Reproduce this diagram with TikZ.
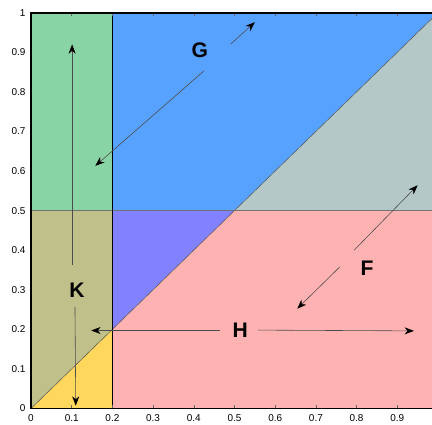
\documentclass[tikz,border=0pt]{standalone}
\usepackage{fontspec}
\setmainfont{Liberation Sans}
\usepackage{tikz}
\usetikzlibrary{positioning,arrows.meta}
\definecolor{gzone}{RGB}{136,212,164}
\definecolor{bzone}{RGB}{88,162,255}
\definecolor{szone}{RGB}{180,200,200}
\definecolor{pzone}{RGB}{255,178,178}
\definecolor{ozone}{RGB}{192,192,138}
\definecolor{vzone}{RGB}{130,130,255}
\definecolor{yzone}{RGB}{255,215,92}

\begin{document}
\begin{tikzpicture}[x=12.21cm,y=11.874cm,
		arr/.style={draw=black!70,line width=0.5pt,-{Stealth[length=8pt,width=6pt,inset=2.5pt,color=black]}},
		lbl/.style={font=\fontsize{18}{18}\selectfont\bfseries,inner sep=1pt},
		tck/.style={font=\fontsize{8.5}{9}\selectfont,inner sep=0pt}]
	\useasboundingbox (-0.0762,-0.0417) rectangle (0.9853,1.0321);
	\begin{scope}
		\clip (-0.0762,-0.0417) rectangle (0.9853,1.0321);
		\fill[gzone] (0,0.5) rectangle (0.2,1);
		\fill[ozone] (0,0) -- (0.2,0.2) -- (0.2,0.5) -- (0,0.5) -- cycle;
		\fill[yzone] (0,0) -- (0.2,0) -- (0.2,0.2) -- cycle;
		\fill[bzone] (0.2,0.5) -- (0.5,0.5) -- (1,1) -- (0.2,1) -- cycle;
		\fill[szone] (0.5,0.5) -- (1,0.5) -- (1,1) -- cycle;
		\fill[vzone] (0.2,0.2) -- (0.2,0.5) -- (0.5,0.5) -- cycle;
		\fill[pzone] (0.2,0) -- (1,0) -- (1,0.5) -- (0.5,0.5) -- (0.2,0.2) -- cycle;
		\draw[black!70,line width=0.4pt] (0,0) -- (1,1);
		\draw[black!55,line width=0.7pt] (0,0.5) -- (1,0.5);
		\draw[black,line width=0.6pt] (0.2,0) -- (0.2,1);
		\foreach \t in {0.1,0.2,0.3,0.4,0.5,0.6,0.7,0.8,0.9}
		{
			\draw[black!60,line width=0.4pt] (\t,0) -- (\t,0.009);
			\draw[black!60,line width=0.4pt] (\t,1) -- (\t,0.991);
		}
		\draw[black,line width=1.6pt] (1.1,1) -- (0,1) -- (0,0) -- (1.1,0);
	\end{scope}
	\foreach \t [count=\i] in {0,0.1,0.2,0.3,0.4,0.5,0.6,0.7,0.8,0.9}
		\node[tck,anchor=north] (xt\i) at (\t,-0.016) {\t};
	\foreach \t [count=\i] in {0,0.1,0.2,0.3,0.4,0.5,0.6,0.7,0.8,0.9,1}
		\node[tck,anchor=east] (yt\i) at (-0.013,\t) {\t};
	\node[lbl] (G) at (0.415,0.906) {G};
	\node[lbl] (K) at (0.113,0.299) {K};
	\node[lbl] (H) at (0.514,0.198) {H};
	\node[lbl] (F) at (0.826,0.355) {F};
	\coordinate (g1) at (0.491,0.921);
	\coordinate (g2) at (0.550,0.976);
	\coordinate (g3) at (0.425,0.853);
	\coordinate (g4) at (0.158,0.613);
	\coordinate (k1) at (0.101,0.363);
	\coordinate (k2) at (0.101,0.920);
	\coordinate (k3) at (0.108,0.256);
	\coordinate (k4) at (0.110,0.007);
	\coordinate (h1) at (0.464,0.197);
	\coordinate (h2) at (0.148,0.197);
	\coordinate (h3) at (0.558,0.198);
	\coordinate (h4) at (0.941,0.196);
	\coordinate (f1) at (0.794,0.400);
	\coordinate (f2) at (0.950,0.564);
	\coordinate (f3) at (0.759,0.358);
	\coordinate (f4) at (0.654,0.252);
	\draw[arr] (g1) -- (g2);
	\draw[arr] (g3) -- (g4);
	\draw[arr] (k1) -- (k2);
	\draw[arr] (k3) -- (k4);
	\draw[arr] (h1) -- (h2);
	\draw[arr] (h3) -- (h4);
	\draw[arr] (f1) -- (f2);
	\draw[arr] (f3) -- (f4);
\end{tikzpicture}
\end{document}
